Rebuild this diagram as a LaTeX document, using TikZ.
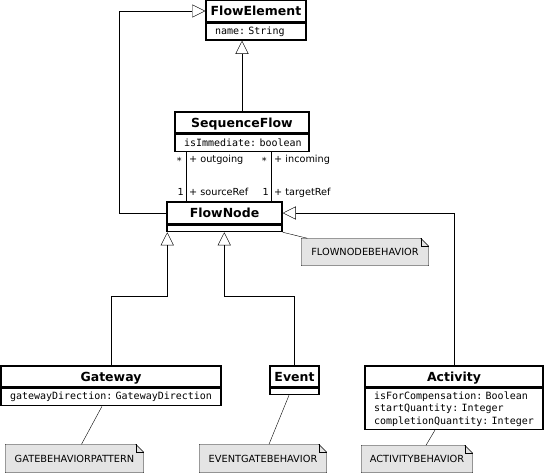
\documentclass[tikz,border=0pt]{standalone}
\usepackage{fontspec}
\usepackage{tikz}
\usetikzlibrary{positioning,arrows.meta,backgrounds}

\newfontfamily\umlsans{DejaVu Sans}
\newfontfamily\umlmono{DejaVu Sans Mono}[WordSpace={1,0,0}]
\definecolor{notegray}{RGB}{228,228,228}

\begin{document}
\begin{tikzpicture}[x=1pt,y=-1pt,line width=1.5pt,
        classhead/.style={draw,fill=white,minimum height=21pt,inner sep=0pt,
            text height=9.3pt,text depth=0pt,
            font=\umlsans\bfseries\fontsize{12.5}{14}\selectfont},
        classattr/.style={draw,fill=white,inner xsep=9pt,inner ysep=3pt,
            minimum height=17pt,text width=#1,
            execute at begin node={\umlmono\fontsize{10}{12.5}\selectfont
                \fontdimen2\font=0.602em\relax\hyphenpenalty=10000\hbadness=10000}},
        classempty/.style={draw,fill=white,inner sep=0pt,minimum height=6pt},
        notebox/.style={inner sep=0pt,minimum width=#1,minimum height=26pt,
            font=\umlsans\fontsize{9.8}{11}\selectfont},
        rolelabel/.style={inner sep=0pt,font=\umlsans\fontsize{9.7}{11}\selectfont},
        generalize/.style={-{Triangle[open,length=13pt,width=13pt]}}]
    \useasboundingbox (0,0) rectangle (545,474);

    \node[classhead,minimum width=100pt] (fe) at (256,11) {FlowElement};
    \node[classattr=82pt,below=0pt of fe] (fe-a) {name:~String};

    \node[classhead,minimum width=134pt] (sf) at (242,122.5) {SequenceFlow};
    \node[classattr=116pt,below=0pt of sf] (sf-a) {isImmediate:~boolean};

    \node[classhead,minimum width=115pt,minimum height=22pt] (fn) at (224.5,213) {FlowNode};
    \node[classempty,minimum width=115pt,below=0pt of fn] (fn-a) {};

    \node[classhead,minimum width=220pt] (gw) at (111,376.5) {Gateway};
    \node[classattr=202pt,below=0pt of gw] (gw-a) {gatewayDirection:~GatewayDirection};

    \node[classhead,minimum width=49pt] (ev) at (294.5,376.5) {Event};
    \node[classempty,minimum width=49pt,below=0pt of ev] (ev-a) {};

    \node[classhead,minimum width=178pt] (ac) at (454,376.5) {Activity};
    \node[classattr=160pt,below=0pt of ac] (ac-a) {isForCompensation:~Boolean\\
        startQuantity:~Integer\\completionQuantity:~Integer};

    \node[notebox=126pt] (fnb) at (365,252) {FLOWNODEBEHAVIOR};
    \node[notebox=137pt,minimum height=27pt] (gbp) at (74.5,458.5) {GATEBEHAVIORPATTERN};
    \node[notebox=126pt,minimum height=27pt] (egb) at (263,458.5) {EVENTGATEBEHAVIOR};
    \node[notebox=110pt] (acb) at (417,459) {ACTIVITYBEHAVIOR};

    \foreach \n in {fnb,gbp,egb,acb}{
        \begin{pgfonlayer}{background}
            \filldraw[fill=notegray] (\n.south west) -- (\n.north west)
                -- ([xshift=-8pt]\n.north east) -- ([yshift=-8pt]\n.north east)
                -- (\n.south east) -- cycle;
            \draw ([xshift=-8pt]\n.north east) |- ([yshift=-8pt]\n.north east);
        \end{pgfonlayer}
    }

    \draw[generalize] (sf.north) -- (sf.north |- fe-a.south);
    \draw[generalize] (fn.west) -- ++(-47,0) |- (fe.west);
    \draw[generalize] (gw.north) -- ++(0,-69) -| ([xshift=1pt]fn-a.south west);
    \draw[generalize] (ev.north) -- ++(0,-69) -| ([xshift=58pt]fn-a.south west);
    \draw[generalize] (ac.north) |- (fn.east);

    \coordinate (outgoing) at (186,0);
    \coordinate (incoming) at (271,0);
    \draw (sf-a.south -| outgoing) -- (fn.north -| outgoing)
        node[rolelabel,at start,anchor=base east,xshift=-4pt,yshift=-12pt] {*}
        node[rolelabel,at start,anchor=base west,xshift=3pt,yshift=-10pt] {+ outgoing}
        node[rolelabel,at end,anchor=base east,xshift=-2pt,yshift=6pt] {1}
        node[rolelabel,at end,anchor=base west,xshift=3pt,yshift=6pt] {+ sourceRef};
    \draw (sf-a.south -| incoming) -- (fn.north -| incoming)
        node[rolelabel,at start,anchor=base east,xshift=-4pt,yshift=-12pt] {*}
        node[rolelabel,at start,anchor=base west,xshift=3pt,yshift=-10pt] {+ incoming}
        node[rolelabel,at end,anchor=base east,xshift=-2pt,yshift=6pt] {1}
        node[rolelabel,at end,anchor=base west,xshift=3pt,yshift=6pt] {+ targetRef};

    \draw (fn-a.south east) -- ([xshift=6pt]fnb.north west);
    \draw ([xshift=-9pt]gw-a.south) -- ([xshift=7pt]gbp.north);
    \draw ([xshift=-5.5pt]ev-a.south) -- ([xshift=6pt]egb.north);
    \draw ([xshift=-19pt]ac-a.south) -- ([xshift=9pt]acb.north);
\end{tikzpicture}
\end{document}
